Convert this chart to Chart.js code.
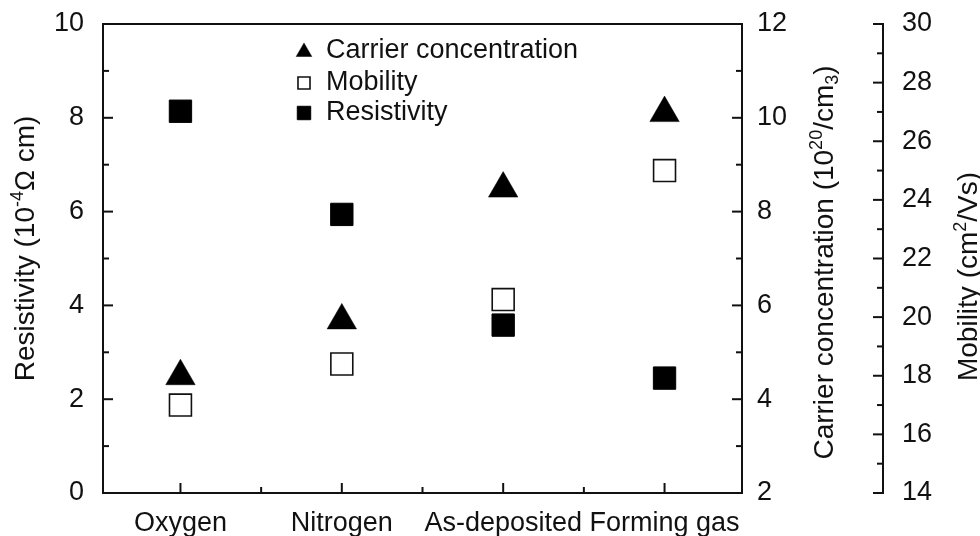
<!DOCTYPE html>
<html>
<head>
<meta charset="utf-8">
<script src="https://cdn.jsdelivr.net/npm/chart.js@4/dist/chart.umd.min.js"></script>
<style>
  html, body { margin: 0; padding: 0; background: #ffffff; }
  #wrap { width: 980px; height: 536px; position: relative; }
</style>
</head>
<body>
<div id="wrap"><canvas id="chart" width="980" height="536"></canvas></div>
<script>
// Annealing atmospheres
const categories = ['Oxygen', 'Nitrogen', 'As-deposited', 'Forming gas'];

// Carrier concentration, 10^20 /cm3 (right inner axis)
const carrierConcentration = [4.49, 5.68, 8.49, 10.10];
// Hall mobility, cm2/Vs (right outer axis)
const mobility = [17.0, 18.4, 20.6, 25.0];
// Resistivity, 10^-4 ohm cm (left axis)
const resistivity = [8.14, 5.94, 3.58, 2.45];

// Major tick values of the three value axes
const resistivityTicks = [0, 2, 4, 6, 8, 10];
const carrierTicks = [2, 4, 6, 8, 10, 12];
const mobilityTicks = [14, 16, 18, 20, 22, 24, 26, 28, 30];

const INK = '#111111';
const FONT = '"Liberation Sans", Arial, Helvetica, sans-serif';
const TICK_FONT = { family: FONT, size: 27 };

const toPoints = values => values.map((v, i) => ({ x: i + 1, y: v }));
const setTicks = list => scale => { scale.ticks = list.map(v => ({ value: v })); };
const fitWidth = w => scale => { scale.width = w; scale.paddingTop = 0; scale.paddingBottom = 0; };

// Rotated axis title made of runs; runs may be superscript or subscript
function drawRotatedTitle(ctx, runs, baseX, centerY, size) {
  const small = Math.round(size * 0.65);
  ctx.save();
  ctx.fillStyle = INK;
  ctx.textBaseline = 'alphabetic';
  ctx.textAlign = 'left';
  const widths = runs.map(r => {
    ctx.font = `${r.sup || r.sub ? small : size}px ${FONT}`;
    return ctx.measureText(r.t).width;
  });
  const total = widths.reduce((a, b) => a + b, 0);
  ctx.translate(baseX, centerY);
  ctx.rotate(-Math.PI / 2);
  let x = -total / 2;
  runs.forEach((r, i) => {
    ctx.font = `${r.sup || r.sub ? small : size}px ${FONT}`;
    const dy = r.sup ? -size * 0.38 : (r.sub ? size * 0.17 : 0);
    ctx.fillText(r.t, x, dy);
    x += widths[i];
  });
  ctx.restore();
}

function marker(ctx, ds, x, y, radius) {
  const opts = {
    pointStyle: ds.pointStyle,
    radius: radius,
    rotation: 0,
    borderWidth: ds.pointBorderWidth
  };
  ctx.save();
  ctx.fillStyle = ds.pointBackgroundColor;
  ctx.strokeStyle = ds.pointBorderColor;
  ctx.lineWidth = ds.pointBorderWidth;
  Chart.helpers.drawPoint(ctx, opts, x, y);
  ctx.restore();
}

// Box frame, inward tick marks, the detached mobility axis, titles and legend
const decorations = {
  id: 'decorations',
  afterDraw(chart) {
    const { ctx, chartArea: a, scales } = chart;
    const { x, y, y2, y3 } = scales;
    const MAJOR = 10, MINOR = 6;

    ctx.save();
    ctx.strokeStyle = INK;
    ctx.lineCap = 'butt';

    // frame
    ctx.lineWidth = 2;
    ctx.strokeRect(a.left, a.top, a.right - a.left, a.bottom - a.top);

    const hTick = (px, py, len) => { ctx.beginPath(); ctx.moveTo(px, py); ctx.lineTo(px + len, py); ctx.stroke(); };
    const vTick = (px, py, len) => { ctx.beginPath(); ctx.moveTo(px, py); ctx.lineTo(px, py + len); ctx.stroke(); };
    const withMinors = (vals) => {
      const out = [];
      vals.forEach((v, i) => {
        out.push({ v, major: true });
        if (i < vals.length - 1) out.push({ v: (v + vals[i + 1]) / 2, major: false });
      });
      return out;
    };
    const inner = (list, v) => v !== list[0] && v !== list[list.length - 1];

    // left axis (resistivity)
    withMinors(resistivityTicks).forEach(t => {
      if (t.major && !inner(resistivityTicks, t.v)) return;
      hTick(a.left, y.getPixelForValue(t.v), t.major ? MAJOR : MINOR);
    });
    // right side of the frame (carrier concentration)
    withMinors(carrierTicks).forEach(t => {
      if (t.major && !inner(carrierTicks, t.v)) return;
      hTick(a.right, y2.getPixelForValue(t.v), -(t.major ? MAJOR : MINOR));
    });
    // bottom axis (categories)
    withMinors(categories.map((_, i) => i + 1)).forEach(t => {
      vTick(x.getPixelForValue(t.v), a.bottom, -(t.major ? MAJOR : MINOR));
    });

    // detached mobility axis
    const mx = y3.left;
    const mTop = y3.getPixelForValue(mobilityTicks[mobilityTicks.length - 1]);
    const mBot = y3.getPixelForValue(mobilityTicks[0]);
    ctx.beginPath(); ctx.moveTo(mx, mTop - 1); ctx.lineTo(mx, mBot + 1); ctx.stroke();
    withMinors(mobilityTicks).forEach(t => {
      hTick(mx + 1, y3.getPixelForValue(t.v), -(t.major ? MAJOR + 1 : MINOR + 1));
    });
    ctx.restore();

    // axis titles
    drawRotatedTitle(ctx, [
      { t: 'Resistivity (10' }, { t: '-4', sup: true }, { t: '\u03A9 cm)' }
    ], a.left - 69, (a.top + a.bottom) / 2 - 10, 28);
    drawRotatedTitle(ctx, [
      { t: 'Carrier concentration (10' }, { t: '20', sup: true }, { t: '/cm' }, { t: '3', sub: true }, { t: ')' }
    ], y2.right - 50, (a.top + a.bottom) / 2 + 4, 28);
    drawRotatedTitle(ctx, [
      { t: 'Mobility (cm' }, { t: '2', sup: true }, { t: '/Vs)' }
    ], y3.left + 94, (a.top + a.bottom) / 2 + 18, 28);

    // legend
    const lx = a.left + 201, tx = a.left + 223;
    const rows = [
      { ds: chart.data.datasets[0], y: a.top + 27, r: 9 },
      { ds: chart.data.datasets[1], y: a.top + 59, r: 8.5 },
      { ds: chart.data.datasets[2], y: a.top + 89, r: 9.5 }
    ];
    rows.forEach(row => {
      marker(ctx, row.ds, lx, row.y + (row.ds.pointStyle === 'triangle' ? 1 : 0), row.r);
      ctx.save();
      ctx.fillStyle = INK;
      ctx.font = `27px ${FONT}`;
      ctx.textAlign = 'left';
      ctx.textBaseline = 'middle';
      ctx.fillText(row.ds.label, tx, row.y);
      ctx.restore();
    });
  }
};

const hiddenGrid = { display: false, drawTicks: false };

new Chart(document.getElementById('chart'), {
  type: 'scatter',
  data: {
    datasets: [
      {
        label: 'Carrier concentration',
        data: toPoints(carrierConcentration),
        yAxisID: 'y2',
        pointStyle: 'triangle',
        pointRadius: 17,
        pointBackgroundColor: '#000000',
        pointBorderColor: '#000000',
        pointBorderWidth: 0.5
      },
      {
        label: 'Mobility',
        data: toPoints(mobility),
        yAxisID: 'y3',
        pointStyle: 'rect',
        pointRadius: 15.5,
        pointBackgroundColor: '#ffffff',
        pointBorderColor: '#111111',
        pointBorderWidth: 1.6
      },
      {
        label: 'Resistivity',
        data: toPoints(resistivity),
        yAxisID: 'y',
        pointStyle: 'rect',
        pointRadius: 15.8,
        pointBackgroundColor: '#000000',
        pointBorderColor: '#000000',
        pointBorderWidth: 1
      }
    ]
  },
  options: {
    responsive: false,
    animation: false,
    events: [],
    layout: { padding: { top: 24, left: 0, right: 0, bottom: 0 } },
    plugins: {
      legend: { display: false },
      tooltip: { enabled: false },
      title: { display: false }
    },
    scales: {
      x: {
        type: 'linear',
        min: 0.52,
        max: 4.48,
        grid: hiddenGrid,
        border: { display: false },
        afterBuildTicks: scale => { scale.ticks = categories.map((_, i) => ({ value: i + 1 })); },
        afterFit: scale => { scale.height = 43; scale.paddingLeft = 0; scale.paddingRight = 0; },
        ticks: {
          callback: v => categories[Math.round(v) - 1],
          font: TICK_FONT,
          color: INK,
          padding: 14,
          maxRotation: 0,
          autoSkip: false
        }
      },
      y: {
        position: 'left',
        min: 0,
        max: 10,
        grid: hiddenGrid,
        border: { display: false },
        afterBuildTicks: setTicks(resistivityTicks),
        afterFit: fitWidth(103),
        ticks: { font: TICK_FONT, color: INK, padding: 19 }
      },
      y2: {
        position: 'right',
        weight: 0,
        min: 2,
        max: 12,
        grid: hiddenGrid,
        border: { display: false },
        afterBuildTicks: setTicks(carrierTicks),
        afterFit: fitWidth(141),
        ticks: { font: TICK_FONT, color: INK, padding: 15 }
      },
      y3: {
        position: 'right',
        weight: 1,
        min: 14,
        max: 30,
        grid: hiddenGrid,
        border: { display: false },
        afterBuildTicks: setTicks(mobilityTicks),
        afterFit: fitWidth(97),
        ticks: { font: TICK_FONT, color: INK, padding: 19 }
      }
    }
  },
  plugins: [decorations]
});
</script>
</body>
</html>
